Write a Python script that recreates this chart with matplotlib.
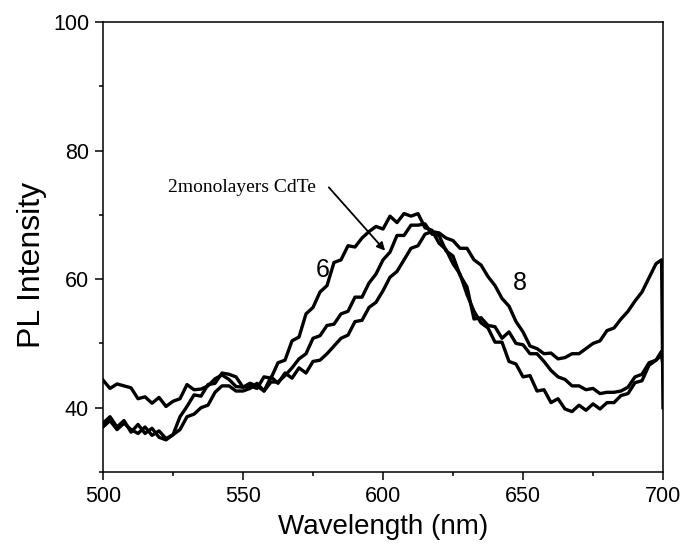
import matplotlib
matplotlib.use("Agg")
import matplotlib.pyplot as plt

# wavelength grid (nm), shared by the three spectra
wavelength = [500, 502.5, 505, 507.5, 510, 512.5, 515, 517.5, 520, 522.5,
              525, 527.5, 530, 532.5, 535, 537.5, 540, 542.5, 545, 547.5,
              550, 552.5, 555, 557.5, 560, 562.5, 565, 567.5, 570, 572.5,
              575, 577.5, 580, 582.5, 585, 587.5, 590, 592.5, 595, 597.5,
              600, 602.5, 605, 607.5, 610, 612.5, 615, 617.5, 620, 622.5,
              625, 627.5, 630, 632.5, 635, 637.5, 640, 642.5, 645, 647.5,
              650, 652.5, 655, 657.5, 660, 662.5, 665, 667.5, 670, 672.5,
              675, 677.5, 680, 682.5, 685, 687.5, 690, 692.5, 695, 697.5,
              699.5, 700]

pl_6 = [37.6, 38.6, 37.0, 38.0, 36.2, 37.4, 36.0, 36.8, 35.4, 35.0,
        35.8, 38.6, 40.2, 42.0, 41.8, 43.6, 43.8, 45.4, 45.2, 44.8,
        43.2, 43.4, 43.0, 44.8, 44.6, 47.0, 47.4, 50.4, 51.0, 54.6,
        55.6, 58.0, 59.0, 62.6, 63.0, 65.2, 65.0, 66.4, 67.4, 68.2,
        67.8, 69.8, 68.8, 70.2, 69.8, 70.2, 68.0, 67.6, 65.6, 64.6,
        62.4, 60.8, 57.6, 55.0, 53.2, 52.4, 50.2, 50.2, 47.2, 46.8,
        44.8, 45.0, 42.6, 42.8, 40.8, 41.4, 39.8, 39.4, 40.4, 39.6,
        40.6, 39.8, 40.8, 40.8, 41.9, 42.2, 43.9, 44.2, 46.6, 47.4,
        48.8, 47.0]

pl_2ml = [37.0, 38.0, 36.6, 37.6, 36.6, 36.0, 37.0, 35.7, 36.4, 35.2,
          35.8, 36.6, 38.6, 39.0, 40.0, 40.4, 42.4, 43.4, 43.4, 42.6,
          42.6, 43.0, 43.8, 42.6, 44.0, 44.0, 45.0, 46.2, 47.6, 48.4,
          50.8, 51.2, 52.8, 53.0, 54.6, 55.0, 57.2, 57.2, 59.4, 60.8,
          63.0, 64.2, 66.8, 66.8, 68.4, 68.4, 68.6, 67.0, 66.8, 64.4,
          63.6, 60.6, 58.8, 53.8, 54.0, 52.8, 52.6, 50.8, 51.8, 50.0,
          49.8, 48.4, 48.4, 47.2, 45.8, 44.8, 44.4, 43.4, 43.4, 42.8,
          43.0, 42.2, 42.4, 42.4, 42.6, 43.2, 44.8, 45.2, 47.0, 47.4,
          48.2, 46.5]

pl_8 = [44.3, 43.0, 43.7, 43.4, 43.1, 41.4, 41.7, 40.7, 41.6, 40.2,
        41.0, 41.4, 43.6, 42.8, 42.9, 43.4, 44.5, 45.1, 44.4, 43.3,
        43.2, 43.8, 43.4, 42.6, 44.8, 43.8, 45.4, 44.6, 46.2, 45.4,
        47.2, 47.4, 48.4, 49.6, 50.8, 51.3, 53.4, 53.6, 55.6, 56.4,
        58.2, 60.3, 61.2, 63.0, 64.8, 65.2, 67.0, 67.4, 67.2, 66.4,
        66.0, 64.8, 64.8, 63.0, 62.2, 60.4, 59.0, 57.0, 55.8, 53.4,
        51.8, 49.6, 49.2, 48.4, 48.5, 47.6, 47.8, 48.4, 48.4, 49.2,
        50.0, 50.4, 52.0, 52.4, 53.8, 55.0, 56.6, 58.0, 60.2, 62.4,
        63.0, 40.0]

plt.rcParams['font.family'] = ['Liberation Sans', 'DejaVu Sans']

fig = plt.figure(figsize=(6.84, 5.46), dpi=100)
ax = fig.add_axes([0.1506, 0.1355, 0.8187, 0.8242])

for series in (pl_6, pl_2ml, pl_8):
    ax.plot(wavelength, series, color='black', lw=2.4)

ax.set_xlim(500, 700)
ax.set_ylim(30, 100)
ax.set_xticks([500, 550, 600, 650, 700])
ax.set_xticks([525, 575, 625, 675], minor=True)
ax.set_yticks([40, 60, 80, 100])
ax.set_yticks([30, 50, 70, 90], minor=True)
ax.tick_params(which='major', direction='out', length=6, width=1.1,
               labelsize=15.5, pad=4)
ax.tick_params(which='minor', direction='out', length=3, width=1.1)
for sp in ax.spines.values():
    sp.set_linewidth(1.1)

ax.set_xlabel('Wavelength (nm)', fontsize=20, labelpad=5)
ax.set_ylabel('PL Intensity', fontsize=23)
ax.yaxis.set_label_coords(-0.10, 0.46)

ax.text(523.2, 74.3, '2monolayers CdTe', family='Liberation Serif',
        fontsize=14, ha='left', va='center')
ax.annotate('', xy=(601.4, 64.1), xytext=(580, 74.6),
            arrowprops=dict(arrowstyle='-|>', color='black', lw=1.3,
                            mutation_scale=12))
ax.text(578.6, 61.4, '6', fontsize=18, ha='center', va='center')
ax.text(649, 59.4, '8', fontsize=18, ha='center', va='center')

fig.savefig('out.png', dpi=100)
